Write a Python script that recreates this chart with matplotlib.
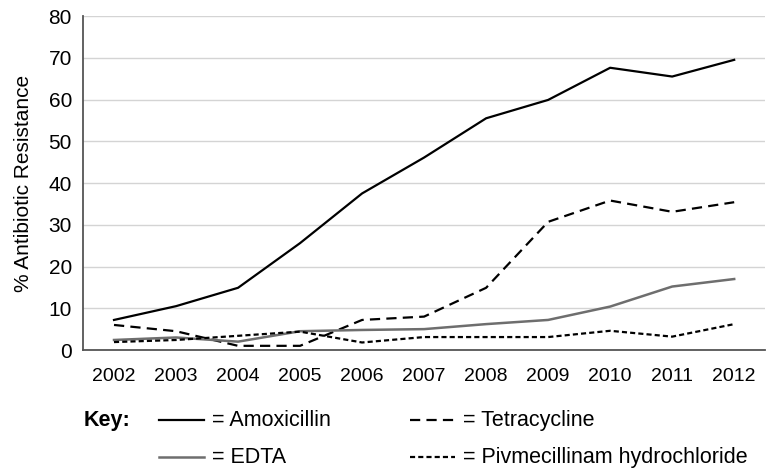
import matplotlib.pyplot as plt
from matplotlib.lines import Line2D

plt.rcParams['font.family'] = ['Liberation Sans', 'DejaVu Sans']

years = ['2002', '2003', '2004', '2005', '2006', '2007', '2008', '2009', '2010', '2011', '2012']
amoxicillin = [7.2, 10.5, 14.9, 25.6, 37.5, 46.1, 55.5, 59.9, 67.6, 65.5, 69.5]
tetracycline = [6.0, 4.5, 1.0, 1.0, 7.2, 8.0, 14.9, 30.7, 35.8, 33.1, 35.4]
edta = [2.4, 3.0, 2.0, 4.5, 4.8, 5.0, 6.2, 7.2, 10.4, 15.2, 17.0]
pivmecillinam = [1.9, 2.4, 3.4, 4.4, 1.8, 3.1, 3.1, 3.1, 4.6, 3.2, 6.2]

names = ['Amoxicillin', 'Tetracycline', 'EDTA', 'Pivmecillinam hydrochloride']
series = [amoxicillin, tetracycline, edta, pivmecillinam]
styles = [
    dict(color='black', lw=1.6, ls='-'),
    dict(color='black', lw=1.6, ls=(0, (4.6, 2.8))),
    dict(color='#6e6e6e', lw=1.8, ls='-'),
    dict(color='black', lw=1.6, ls=(0, (2.3, 1.4))),
]

W, H = 766, 469
fig = plt.figure(figsize=(W / 100, H / 100), dpi=100)
ax = fig.add_axes([83 / W, 1 - 350 / H, 0.8906, 334 / H])

x = list(range(len(years)))
for vals, st in zip(series, styles):
    ax.plot(x, vals, **st)

ax.set_xlim(-0.5, len(years) - 0.5)
ax.set_ylim(0, 80)
ax.set_yticks(range(0, 81, 10))
ax.set_xticks(x)
ax.set_xticklabels(years)
ax.tick_params(length=0, colors='black')
ax.tick_params(axis='x', pad=13, labelsize=14)
ax.tick_params(axis='y', pad=8, labelsize=15)
ax.yaxis.grid(True, color='#d4d4d4', lw=1)
ax.set_axisbelow(True)
for side in ['top', 'right']:
    ax.spines[side].set_visible(False)
for side in ['left', 'bottom']:
    ax.spines[side].set_color('#555555')
    ax.spines[side].set_linewidth(1.3)
ax.set_ylabel('% Antibiotic Resistance', fontsize=15)
ax.yaxis.set_label_coords(-(83 - 33) / (0.8906 * W), 0.5)

# key below the chart
fig.text(84 / W, 1 - 420 / H, 'Key:', fontsize=15.5, fontweight='bold', va='center')
key_pos = [(159, 420), (410, 420), (159, 457), (410, 457)]
for (px, py), name, st in zip(key_pos, names, styles):
    yf = 1 - py / H
    fig.add_artist(Line2D([px / W, (px + 45) / W], [yf, yf], transform=fig.transFigure, **st))
    fig.text((px + 53) / W, yf, '= ' + name, fontsize=15.5, va='center')

fig.savefig('out.png', dpi=100)
